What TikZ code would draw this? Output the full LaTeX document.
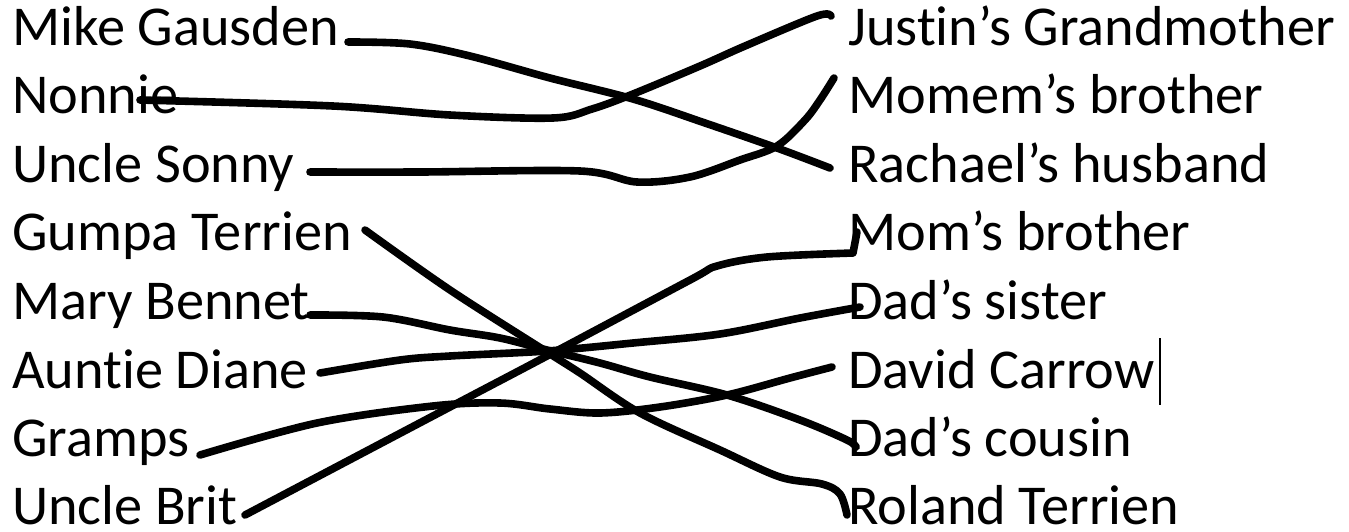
\documentclass[tikz,border=0pt]{standalone}
\usepackage{fontspec}
\setmainfont[RawFeature={-liga;-clig}]{Carlito}
\begin{document}
\begin{tikzpicture}[x=1pt,y=-1pt,
  lbl/.style={anchor=base west,inner sep=0pt,font=\fontsize{56.3pt}{60pt}\selectfont},
  conn/.style={line width=7.6pt,line cap=round,line join=round},
  sm/.style={smooth,tension=0.55}]
\useasboundingbox[fill=white] (0,0) rectangle (1349,531);
% left column
\node[lbl] (l1) at (12,45.0) {Mike Gausden};
\node[lbl] (l2) at (12,113.6) {Nonnie};
\node[lbl] (l3) at (12,182.2) {Uncle Sonny};
\node[lbl] (l4) at (12,250.8) {Gumpa Terrien};
\node[lbl] (l5) at (12,319.4) {Mary Bennet};
\node[lbl] (l6) at (12,388.0) {Aunt\kern0pt ie Diane};
\node[lbl] (l7) at (12,456.6) {Gramps};
\node[lbl] (l8) at (12,524.5) {Uncle Brit};
% right column
\node[lbl] (r1) at (848,45.0) {Just\kern0pt in’s Grandmother};
\node[lbl] (r2) at (848,113.6) {Momem’s brother};
\node[lbl] (r3) at (848,182.2) {Rachael’s husband};
\node[lbl] (r4) at (848,250.8) {Mom’s brother};
\node[lbl] (r5) at (848,319.4) {Dad’s sister};
\node[lbl] (r6) at (848,388.0) {David Carrow};
\node[lbl] (r7) at (848,456.6) {Dad’s cousin};
\node[lbl] (r8) at (848,524.5) {Roland Terrien};
% text cursor
\coordinate (curT) at (1160,338);
\coordinate (curB) at (1160,405);
\draw[line width=2pt] (curT) -- (curB);
% connector ends
\coordinate (s1) at (348,42);
\coordinate (s2) at (140,100);
\coordinate (s3) at (310,172);
\coordinate (s4) at (365,230);
\coordinate (s5) at (310,315);
\coordinate (s6) at (320,373);
\coordinate (s7) at (200,455);
\coordinate (s8) at (245,515);
\coordinate (e1) at (831,16);
\coordinate (e2) at (834,78);
\coordinate (e3) at (830,168);
\coordinate (e4) at (857,232);
\coordinate (e5) at (860,307);
\coordinate (e6) at (832,367);
\coordinate (e7) at (856,447);
\coordinate (e8) at (847,515);
% Mike Gausden -> Rachael's husband
\draw[conn] plot[sm] coordinates {(s1) (410,44) (470,56) (550,78) (633,99) (705,123) (777,148) (e3)};
% Nonnie -> Justin's Grandmother
\draw[conn] plot[sm] coordinates {(s2) (333,106) (450,115) (553,118) (592,109) (633,94) (700,66) (745,46) (817,16) (e1)};
% Uncle Sonny -> Momem's brother
\draw[conn] plot[sm] coordinates {(s3) (420,172) (580,171) (637,182) (690,177) (740,160) (777,146) (805,120) (820,100) (e2)};
% Gumpa Terrien -> Roland Terrien
\draw[conn] plot[sm] coordinates {(s4) (450,290) (547,352) (580,373) (640,413) (720,450) (780,477) (822,484) (840,494) (e8)};
% Mary Bennet -> Dad's cousin
\draw[conn] plot[sm] coordinates {(s5) (383,317) (450,330) (500,338) (547,350) (600,363) (650,377) (727,395) (800,420) (847,440) (e7)};
% Auntie Diane -> Dad's sister
\draw[conn] plot[sm] coordinates {(s6) (400,360) (450,356) (547,351) (633,343) (720,334) (800,318) (e5)};
% Gramps -> David Carrow
\draw[conn] plot[sm] coordinates {(s7) (317,423) (433,406) (500,403) (550,409) (600,413) (660,407) (727,395) (790,378) (e6)};
% Uncle Brit -> Mom's brother
\draw[conn] plot[sm] coordinates {(s8) (450,407) (547,356) (690,280) (717,266) (767,257) (853,253)} -- (e4);
\end{tikzpicture}
\end{document}
